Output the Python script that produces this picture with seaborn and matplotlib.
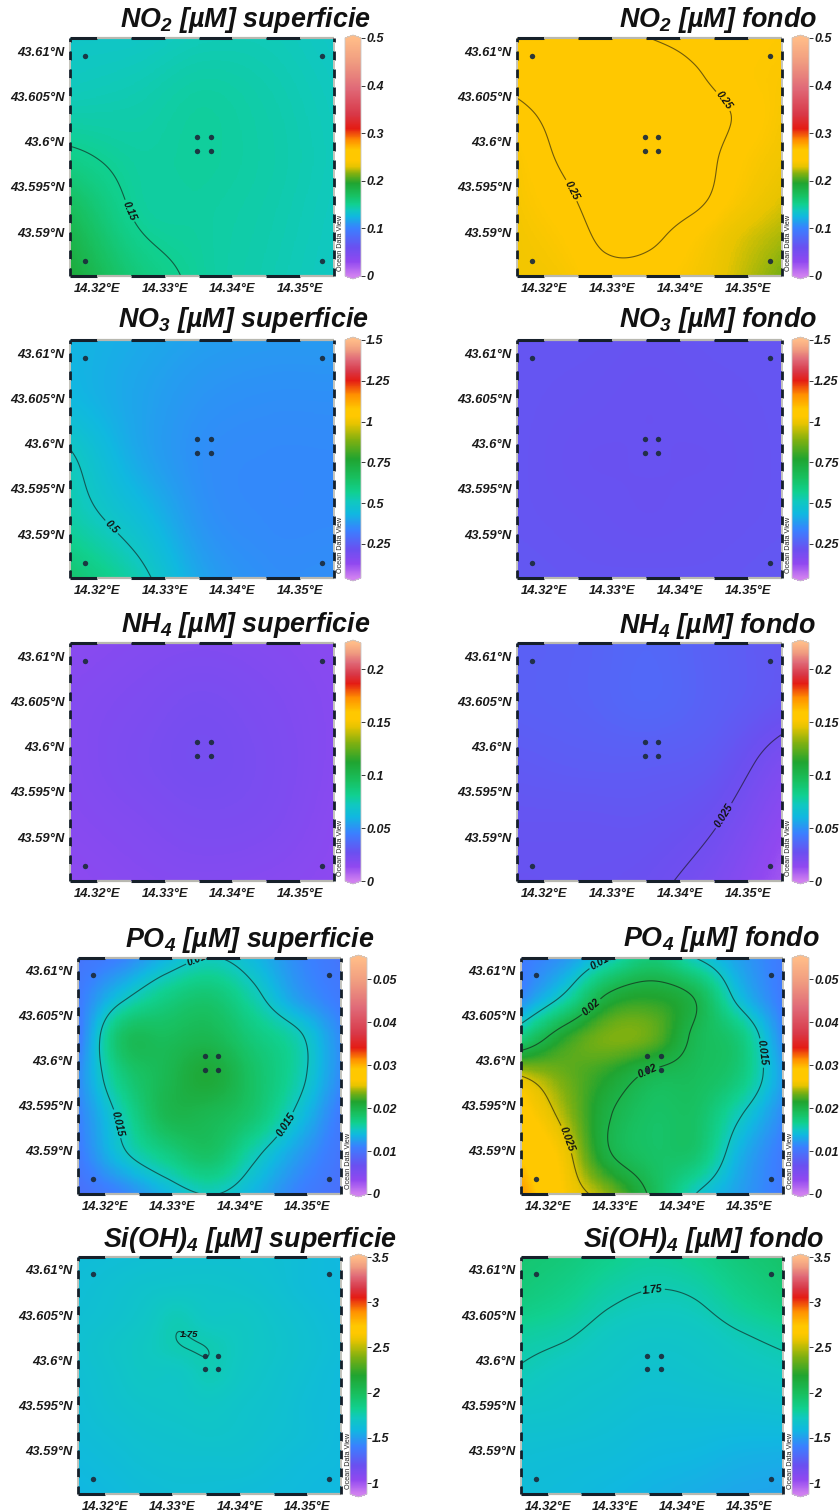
import numpy as np
import matplotlib
matplotlib.use("Agg")
import matplotlib.pyplot as plt
from matplotlib.colors import LinearSegmentedColormap
import seaborn as sns

sns.set_theme(style="white")
plt.rcParams["font.family"] = ["Liberation Sans", "DejaVu Sans"]
plt.rcParams["mathtext.default"] = "regular"

W, H = 839, 1512
TITLES = ["NO$_{2}$ [µM] superficie", "NO$_{2}$ [µM] fondo",
          "NO$_{3}$ [µM] superficie", "NO$_{3}$ [µM] fondo",
          "NH$_{4}$ [µM] superficie", "NH$_{4}$ [µM] fondo",
          "PO$_{4}$ [µM] superficie", "PO$_{4}$ [µM] fondo",
          "Si(OH)$_{4}$ [µM] superficie", "Si(OH)$_{4}$ [µM] fondo"]

LON_TICKS = [14.32, 14.33, 14.34, 14.35]
LON_LABELS = ["14.32°E", "14.33°E", "14.34°E", "14.35°E"]
LAT_TICKS = [43.61, 43.605, 43.6, 43.595, 43.59]
LAT_LABELS = ["43.61°N", "43.605°N", "43.6°N", "43.595°N", "43.59°N"]
STATION_LON = [14.3182, 14.3532, 14.3182, 14.3532, 14.3348, 14.3368, 14.3348, 14.3368]
STATION_LAT = [43.6095, 43.6095, 43.5868, 43.5868, 43.6005, 43.6005, 43.5990, 43.5990]
LON0, LON1, LAT0, LAT1 = 14.3160, 14.3550, 43.58514, 43.61144

# field values, rows from north to south, columns from west to east
NO2_SUP = [[.135, .136, .14, .14, .136],
           [.140, .142, .146, .143, .138],
           [.153, .146, .147, .144, .139],
           [.175, .149, .146, .143, .138],
           [.19, .16, .147, .142, .137]]
NO2_FON = [[.258, .256, .254, .250, .2465, .244, .242],
           [.254, .258, .258, .258, .252, .244, .240],
           [.246, .254, .258, .260, .258, .2485, .238],
           [.240, .2515, .257, .259, .257, .244, .235],
           [.238, .247, .256, .258, .2545, .240, .229],
           [.236, .242, .2525, .2525, .243, .230, .221],
           [.235, .238, .246, .245, .238, .226, .213]]
NO3_SUP = [[.43, .41, .39, .38, .38],
           [.44, .40, .37, .36, .36],
           [.51, .41, .36, .35, .35],
           [.54, .46, .37, .35, .35],
           [.63, .53, .40, .36, .36]]
NO3_FON = [[.23, .23, .225, .23, .23],
           [.23, .225, .22, .225, .23],
           [.23, .22, .22, .22, .23],
           [.23, .225, .22, .225, .23],
           [.235, .23, .23, .23, .235]]
NH4_SUP = [[.016, .018, .019, .018, .016],
           [.018, .020, .022, .020, .017],
           [.018, .021, .023, .021, .017],
           [.017, .019, .021, .020, .016],
           [.015, .017, .018, .017, .015]]
NH4_FON = [[.033, .034, .036, .033, .030],
           [.033, .034, .036, .033, .029],
           [.031, .032, .032, .030, .021],
           [.029, .029, .029, .0255, .015],
           [.028, .028, .0265, .021, .010]]
PO4_SUP = [[.0100, .0110, .0135, .0151, .0138, .0115, .0100],
           [.0105, .0145, .0170, .0180, .0157, .0125, .0105],
           [.0105, .0185, .0190, .0195, .0175, .0155, .0115],
           [.0115, .0173, .0195, .0210, .0185, .0158, .0115],
           [.0110, .0156, .0195, .0195, .0180, .0145, .0105],
           [.0105, .0145, .0170, .0185, .0155, .0125, .0100],
           [.0095, .0110, .0135, .0151, .0135, .0110, .0095]]
PO4_FON = [[.0105, .0120, .0150, .0175, .0150, .0125, .0105],
           [.0115, .0155, .0205, .0215, .0198, .0142, .0105],
           [.0172, .0215, .0235, .0230, .0195, .0175, .0115],
           [.0250, .0232, .0215, .0195, .0190, .0175, .0125],
           [.0275, .0243, .0202, .0185, .0185, .0152, .0115],
           [.0290, .0258, .0203, .0185, .0180, .0135, .0105],
           [.0310, .0265, .0238, .0195, .0150, .0125, .0105]]
SI_SUP = [[1.62, 1.63, 1.64, 1.65, 1.65, 1.65, 1.64, 1.62, 1.59],
          [1.63, 1.65, 1.67, 1.68, 1.68, 1.67, 1.65, 1.62, 1.60],
          [1.64, 1.66, 1.69, 1.738, 1.70, 1.70, 1.67, 1.64, 1.61],
          [1.65, 1.68, 1.71, 1.7475, 1.7475, 1.71, 1.68, 1.65, 1.62],
          [1.64, 1.67, 1.70, 1.70, 1.738, 1.70, 1.67, 1.64, 1.61],
          [1.63, 1.66, 1.68, 1.69, 1.70, 1.68, 1.66, 1.63, 1.61],
          [1.62, 1.64, 1.66, 1.67, 1.68, 1.67, 1.65, 1.63, 1.60],
          [1.60, 1.62, 1.64, 1.65, 1.65, 1.65, 1.63, 1.61, 1.60],
          [1.58, 1.60, 1.62, 1.63, 1.63, 1.62, 1.61, 1.60, 1.59]]
SI_FON = [[1.93, 1.90, 1.84, 1.80, 1.83, 1.90, 1.95],
          [1.89, 1.84, 1.77, 1.74, 1.755, 1.83, 1.90],
          [1.79, 1.76, 1.71, 1.69, 1.70, 1.74, 1.78],
          [1.735, 1.70, 1.68, 1.66, 1.67, 1.69, 1.71],
          [1.68, 1.67, 1.65, 1.63, 1.63, 1.63, 1.64],
          [1.64, 1.63, 1.62, 1.60, 1.59, 1.57, 1.56],
          [1.62, 1.61, 1.59, 1.57, 1.55, 1.53, 1.52]]
FIELDS = [NO2_SUP, NO2_FON, NO3_SUP, NO3_FON, NH4_SUP, NH4_FON, PO4_SUP, PO4_FON, SI_SUP, SI_FON]

VMIN = [0, 0, .04, .04, 0, 0, 0, 0, .88, .88]
VMAX = [.5, .5, 1.5, 1.5, .225, .225, .055, .055, 3.5, 3.5]
CBAR_TICKS = [[0, .1, .2, .3, .4, .5], [0, .1, .2, .3, .4, .5],
              [.25, .5, .75, 1, 1.25, 1.5], [.25, .5, .75, 1, 1.25, 1.5],
              [0, .05, .1, .15, .2], [0, .05, .1, .15, .2],
              [0, .01, .02, .03, .04, .05], [0, .01, .02, .03, .04, .05],
              [1, 1.5, 2, 2.5, 3, 3.5], [1, 1.5, 2, 2.5, 3, 3.5]]
CBAR_LABELS = [["0", "0.1", "0.2", "0.3", "0.4", "0.5"], ["0", "0.1", "0.2", "0.3", "0.4", "0.5"],
               ["0.25", "0.5", "0.75", "1", "1.25", "1.5"], ["0.25", "0.5", "0.75", "1", "1.25", "1.5"],
               ["0", "0.05", "0.1", "0.15", "0.2"], ["0", "0.05", "0.1", "0.15", "0.2"],
               ["0", "0.01", "0.02", "0.03", "0.04", "0.05"], ["0", "0.01", "0.02", "0.03", "0.04", "0.05"],
               ["1", "1.5", "2", "2.5", "3", "3.5"], ["1", "1.5", "2", "2.5", "3", "3.5"]]
LEVELS = [[.15], [.25], [.5], [], [], [.025], [.015], [.015, .02, .025], [1.75], [1.75]]
LEVEL_FMT = [{.15: "0.15"}, {.25: "0.25"}, {.5: "0.5"}, {}, {}, {.025: "0.025"},
             {.015: "0.015"}, {.015: "0.015", .02: "0.02", .025: "0.025"}, {1.75: "1.75"}, {1.75: "1.75"}]
LABEL_AT = [[(.18, .747)], [(.784, .26), (.196, .646)], [(.16, .783)], [], [], [(.786, .73)],
            [(.49, .012), (.159, .70), (.78, .70)],
            [(.315, .024), (.938, .40), (.258, .193), (.478, .46), (.17, .77)],
            [], [(.504, .144)]]

CMAP_COLORS = ["#d080f0", "#9048f0", "#6a50f0", "#3a80ff", "#10b8e0", "#10c8c0", "#10d090",
               "#18c060", "#20a430", "#80b010", "#e8c400", "#ffc800", "#ffc800", "#ff9000", "#e41c14",
               "#d83848", "#e06a78", "#f09c80", "#ffbc88"]
POS_A = [0, .06, .12, .20, .25, .275, .30, .34, .39, .43, .46, .485, .53, .57, .62, .68, .79, .90, 1]
POS_B = [0, .06, .12, .20, .27, .32, .36, .42, .50, .58, .65, .68, .71, .77, .83, .87, .92, .96, 1]
CMAP_OF = ["A", "A", "B", "B", "B", "B", "A", "A", "B", "B"]

FRAMES = [(70, 38, 334, 276), (517, 38, 782, 276),
          (70, 340, 334, 578), (517, 340, 782, 578),
          (70, 643, 334, 881), (517, 643, 782, 881),
          (78, 958, 341, 1194), (521, 958, 783, 1194),
          (78, 1257, 341, 1494), (521, 1257, 783, 1494)]
BARS = [(345, 361), (792, 809)] * 3 + [(350, 367), (792, 809)] * 2
TITLE_XY = [(245, 20), (718, 20), (243, 320), (718, 320), (246, 625), (717, 626),
            (250, 940), (721, 939), (250, 1240), (704, 1240)]
TITLE_SIZE = 19.4
N = 220


def cr(v, n):
    m = len(v)
    p = np.r_[2 * v[0] - v[1], v, 2 * v[-1] - v[-2]]
    s = (np.arange(n) + .5) / n * (m - 1)
    i = np.minimum(s.astype(int), m - 2)
    t = s - i
    a, b, c, d = p[i], p[i + 1], p[i + 2], p[i + 3]
    return .5 * (2 * b + (c - a) * t + (2 * a - 5 * b + 4 * c - d) * t ** 2 + (3 * b - a - 3 * c + d) * t ** 3)


def smooth(grid, n):
    g = np.asarray(grid, float)
    g = np.apply_along_axis(cr, 0, g, n)
    return np.apply_along_axis(cr, 1, g, n)


def make_cmap(pos, name):
    c = LinearSegmentedColormap.from_list(name, list(zip(pos, CMAP_COLORS)), N=512)
    c.set_under(CMAP_COLORS[0])
    c.set_over(CMAP_COLORS[-1])
    return c


CMAPS = {"A": make_cmap(POS_A, "odvA"), "B": make_cmap(POS_B, "odvB")}


def xpos(lon):
    return (np.asarray(lon) - LON0) / (LON1 - LON0) * N


def ypos(lat):
    return (LAT1 - np.asarray(lat)) / (LAT1 - LAT0) * N


def box(x0, y0, x1, y1):
    return [x0 / W, 1 - y1 / H, (x1 - x0) / W, (y1 - y0) / H]


fig = plt.figure(figsize=(W / 100, H / 100), dpi=100, facecolor="white")
TICK_FONT = dict(fontweight="bold", fontstyle="italic", fontsize=9.4, color="#1a1a1a")

for k in range(10):
    x0, y0, x1, y1 = FRAMES[k]
    ax = fig.add_axes(box(x0, y0, x1, y1))
    bx0, bx1 = BARS[k]
    tip = 3
    cax = fig.add_axes(box(bx0, y0 - tip, bx1, y1 + tip))
    field = smooth(FIELDS[k], N)
    sns.heatmap(field, ax=ax, cbar_ax=cax, cmap=CMAPS[CMAP_OF[k]], vmin=VMIN[k], vmax=VMAX[k],
                xticklabels=False, yticklabels=False, linewidths=0, rasterized=True,
                cbar_kws=dict(extend="both", extendfrac=tip / (y1 - y0), extendrect=False))
    cb = ax.collections[0].colorbar
    cb.set_ticks(CBAR_TICKS[k])
    cb.set_ticklabels(CBAR_LABELS[k])
    cb.outline.set_edgecolor("#c8c8c8")
    cb.outline.set_linewidth(.6)
    cax.tick_params(axis="y", length=3, width=.7, color="#333333", pad=.8, right=True, labelright=True)
    for t in cax.get_yticklabels():
        t.set(**{**TICK_FONT, "fontsize": 9.0})
    ax.set_xlim(0, N)
    ax.set_ylim(N, 0)

    for s in ax.spines.values():
        s.set_visible(False)
    ax.set_xticks(xpos(LON_TICKS))
    ax.set_xticklabels(LON_LABELS, **TICK_FONT)
    ax.set_yticks(ypos(LAT_TICKS))
    ax.set_yticklabels(LAT_LABELS, rotation=0, **TICK_FONT)
    ax.tick_params(axis="both", length=0, bottom=True, left=True, labelbottom=True, labelleft=True)
    ax.tick_params(axis="x", pad=5)
    ax.tick_params(axis="y", pad=4)

    xx = np.arange(N) + .5
    if LEVELS[k]:
        cs = ax.contour(xx, xx, field, levels=LEVELS[k], colors="#111111", linewidths=.8, alpha=.6)
        if LABEL_AT[k]:
            txt = ax.clabel(cs, LEVELS[k], fmt=LEVEL_FMT[k], fontsize=7.4, inline=True, inline_spacing=2,
                            manual=[(fx * N, fy * N) for fx, fy in LABEL_AT[k]])
            for t in txt:
                t.set(fontstyle="italic", color="#111111", fontweight="bold")
    if k == 8:
        ax.text(.423 * N, .325 * N, "1.75", fontsize=6.8, fontstyle="italic", fontweight="bold",
                color="#111111", ha="center", va="center")

    sns.scatterplot(x=xpos(STATION_LON), y=ypos(STATION_LAT), ax=ax, s=15, color="#1c2c3c",
                    linewidth=0, alpha=.92, legend=False, clip_on=False, zorder=5)

    # alternating black and grey frame segments every 0.005 deg of longitude, 0.001 deg of latitude
    ex = [LON0] + [14.32 + .005 * i for i in range(7)] + [LON1]
    for i in range(len(ex) - 1):
        c, lw = ("#16202a", 2.2) if i % 2 == 0 else ("#b8b8b0", 1.6)
        for yy in (0, N):
            ax.plot(xpos(ex[i:i + 2]), [yy, yy], color=c, lw=lw, clip_on=False,
                    solid_capstyle="butt", zorder=6)
    ey = [LAT1] + [43.611 - .001 * i for i in range(26)] + [LAT0]
    for i in range(len(ey) - 1):
        c, lw = ("#16202a", 2.0) if i % 2 == 0 else ("#c4c4bc", 1.4)
        for xv in (0, N):
            ax.plot([xv, xv], ypos(ey[i:i + 2]), color=c, lw=lw, clip_on=False,
                    solid_capstyle="butt", zorder=6)

    fig.text((x1 + 7) / W, (1 - (y1 - 33) / H), "Ocean Data View", rotation=90, ha="center", va="center",
             fontsize=5.2, color="#222222")
    tx, ty = TITLE_XY[k]
    fig.text(tx / W, 1 - ty / H, TITLES[k], ha="center", va="center", fontsize=TITLE_SIZE,
             fontweight="bold", fontstyle="italic", color="#111111")

fig.savefig("out.png", dpi=100, facecolor="white")
